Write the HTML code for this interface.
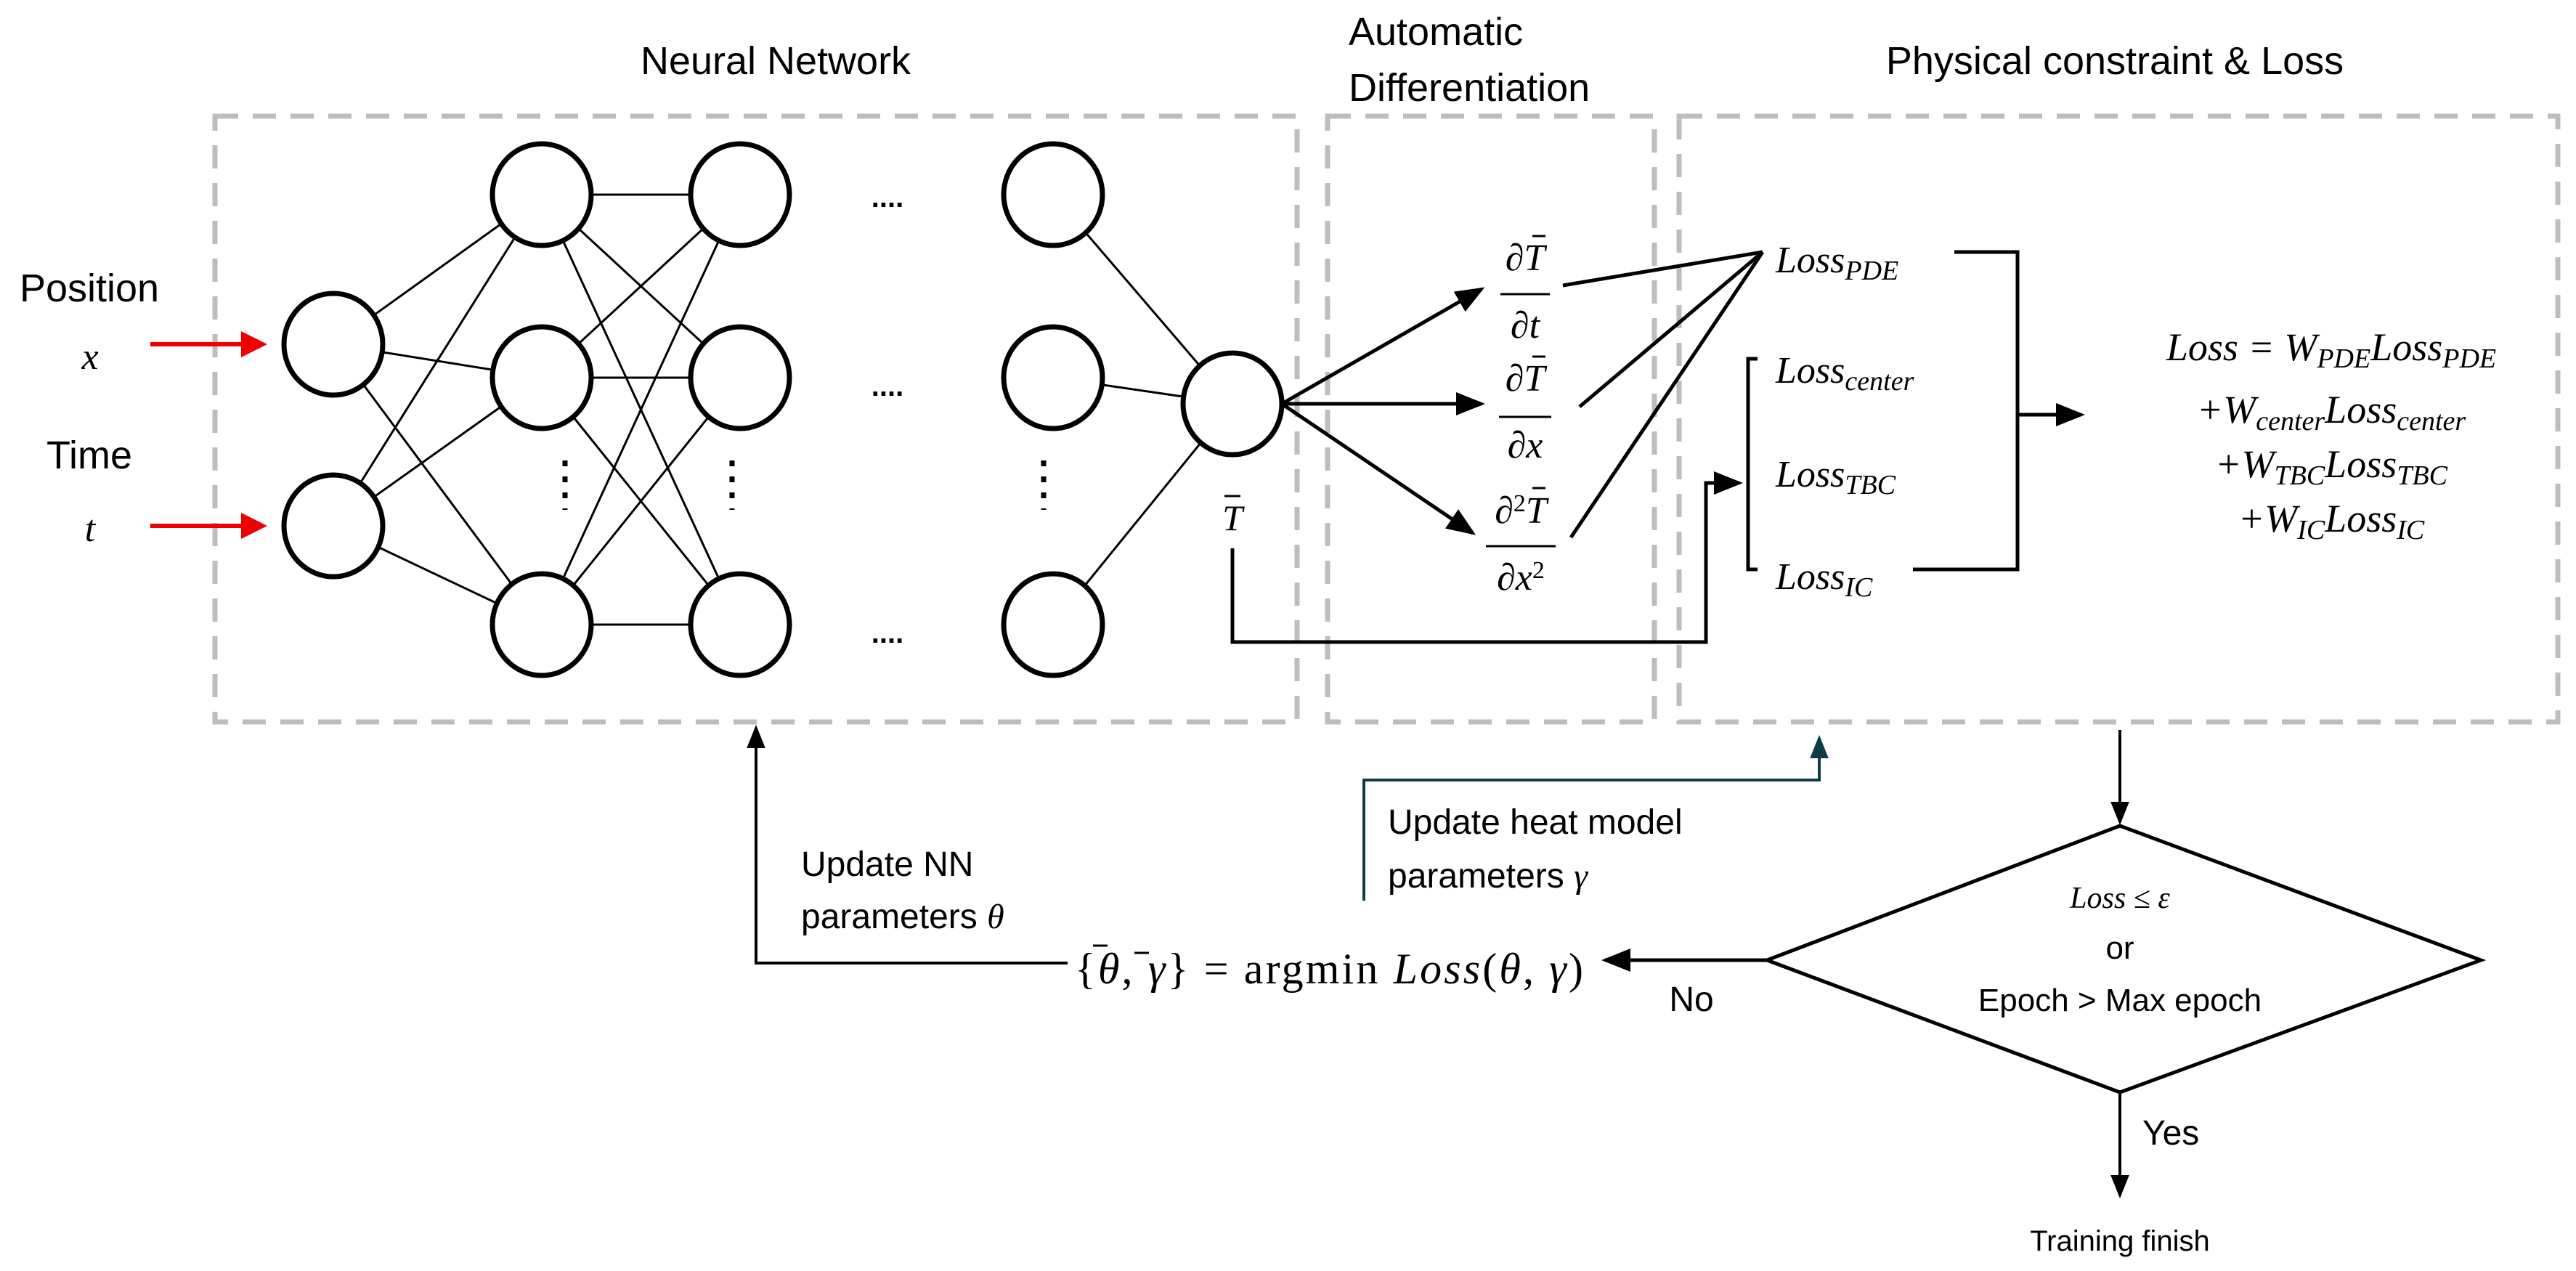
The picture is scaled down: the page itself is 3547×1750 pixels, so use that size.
<!DOCTYPE html>
<html><head><meta charset="utf-8"><style>
body{margin:0;background:#fff}
svg{display:block}
.s{font-family:"Liberation Sans",Arial,sans-serif}
.m{font-family:"Liberation Serif","DejaVu Serif",serif;font-style:italic}
</style></head><body>
<svg width="3547" height="1750" viewBox="0 0 3547 1750" xmlns="http://www.w3.org/2000/svg">
<defs>
<marker id="a" markerWidth="8" markerHeight="8" refX="7" refY="4" orient="auto" markerUnits="strokeWidth"><path d="M0,0.8 L8,4 L0,7.2 z" fill="#000"/></marker>
<marker id="r" markerWidth="6" markerHeight="6" refX="5" refY="3" orient="auto" markerUnits="strokeWidth"><path d="M0,0 L6,3 L0,6 z" fill="#e00"/></marker>
<marker id="g" markerWidth="8" markerHeight="8" refX="7" refY="4" orient="auto" markerUnits="strokeWidth"><path d="M0,0.8 L8,4 L0,7.2 z" fill="#0d3b4a"/></marker>
</defs>
<g fill="none" stroke="#bdbdbd" stroke-width="7" stroke-dasharray="32 20">
<rect x="296" y="160" width="1490" height="834"/>
<rect x="1828" y="160" width="450" height="834"/>
<rect x="2312" y="160" width="1210" height="834"/>
</g>
<g class="s" font-size="54" fill="#000">
<text x="1068" y="102" text-anchor="middle">Neural Network</text>
<text x="1857" y="62">Automatic</text>
<text x="1857" y="139">Differentiation</text>
<text x="2912" y="102" text-anchor="middle">Physical constraint &amp; Loss</text>
<text x="123" y="415" text-anchor="middle">Position</text>
<text x="123" y="645" text-anchor="middle">Time</text>
</g>
<text class="m" x="124" y="508" font-size="52" text-anchor="middle">x</text>
<text class="m" x="124" y="745" font-size="52" text-anchor="middle">t</text>
<g stroke="#e00" stroke-width="6" marker-end="url(#r)">
<line x1="207" y1="474" x2="362" y2="474"/>
<line x1="207" y1="724" x2="362" y2="724"/>
</g>
<g stroke="#000" stroke-width="3">
<line x1="459" y1="474" x2="746" y2="268"/><line x1="459" y1="474" x2="746" y2="520"/><line x1="459" y1="474" x2="746" y2="860"/>
<line x1="459" y1="724" x2="746" y2="268"/><line x1="459" y1="724" x2="746" y2="520"/><line x1="459" y1="724" x2="746" y2="860"/>
<line x1="746" y1="268" x2="1019" y2="268"/><line x1="746" y1="268" x2="1019" y2="520"/><line x1="746" y1="268" x2="1019" y2="860"/>
<line x1="746" y1="520" x2="1019" y2="268"/><line x1="746" y1="520" x2="1019" y2="520"/><line x1="746" y1="520" x2="1019" y2="860"/>
<line x1="746" y1="860" x2="1019" y2="268"/><line x1="746" y1="860" x2="1019" y2="520"/><line x1="746" y1="860" x2="1019" y2="860"/>
<line x1="1450" y1="268" x2="1697" y2="556"/><line x1="1450" y1="520" x2="1697" y2="556"/><line x1="1450" y1="860" x2="1697" y2="556"/>
</g>
<g fill="#fff" stroke="#000" stroke-width="7">
<ellipse cx="459" cy="474" rx="68" ry="70"/><ellipse cx="459" cy="724" rx="68" ry="70"/>
<ellipse cx="746" cy="268" rx="68" ry="70"/><ellipse cx="746" cy="520" rx="68" ry="70"/><ellipse cx="746" cy="860" rx="68" ry="70"/>
<ellipse cx="1019" cy="268" rx="68" ry="70"/><ellipse cx="1019" cy="520" rx="68" ry="70"/><ellipse cx="1019" cy="860" rx="68" ry="70"/>
<ellipse cx="1450" cy="268" rx="68" ry="70"/><ellipse cx="1450" cy="520" rx="68" ry="70"/><ellipse cx="1450" cy="860" rx="68" ry="70"/>
<ellipse cx="1697" cy="556" rx="68" ry="70"/>
</g>
<g class="s" font-size="40" font-weight="bold" text-anchor="middle">
<text x="1222" y="285">....</text><text x="1222" y="545">....</text><text x="1222" y="885">....</text>
</g>
<g stroke="#000" stroke-width="7" stroke-dasharray="8 14">
<line x1="778" y1="634" x2="778" y2="702"/><line x1="1008" y1="634" x2="1008" y2="702"/><line x1="1437" y1="634" x2="1437" y2="702"/>
</g>
<text class="m" x="1697" y="730" font-size="50" text-anchor="middle">T</text>
<line x1="1686" y1="683" x2="1708" y2="683" stroke="#000" stroke-width="3"/>
<polyline points="1697,755 1697,884 2349,884 2349,665 2395,665" fill="none" stroke="#000" stroke-width="5" marker-end="url(#a)"/>
<g stroke="#000" stroke-width="5" fill="none">
<line x1="1765" y1="556" x2="2040" y2="398" marker-end="url(#a)"/>
<line x1="1765" y1="556" x2="2040" y2="556" marker-end="url(#a)"/>
<line x1="1765" y1="556" x2="2028" y2="734" marker-end="url(#a)"/>
<line x1="2152" y1="393" x2="2427" y2="347"/>
<line x1="2175" y1="560" x2="2427" y2="347"/>
<line x1="2163" y1="740" x2="2427" y2="347"/>
</g>
<g class="m" font-size="52" text-anchor="middle">
<text x="2100" y="372">∂T</text><text x="2100" y="465">∂t</text>
<text x="2100" y="538">∂T</text><text x="2100" y="630">∂x</text>
<text x="2094" y="720">∂<tspan font-style="normal" font-size="34" dy="-16">2</tspan><tspan dy="16">T</tspan></text><text x="2094" y="812">∂x<tspan font-style="normal" font-size="34" dy="-16">2</tspan></text>
</g>
<g stroke="#000" stroke-width="3">
<line x1="2066" y1="405" x2="2134" y2="405"/><line x1="2064" y1="574" x2="2136" y2="574"/><line x1="2046" y1="752" x2="2142" y2="752"/>
<line x1="2110" y1="325" x2="2128" y2="325"/><line x1="2110" y1="491" x2="2128" y2="491"/><line x1="2110" y1="672" x2="2128" y2="672"/>
</g>
<g class="m" font-size="52">
<text x="2445" y="375">Loss<tspan font-size="38" dy="10">PDE</tspan></text>
<text x="2445" y="527">Loss<tspan font-size="38" dy="10">center</tspan></text>
<text x="2445" y="670">Loss<tspan font-size="38" dy="10">TBC</tspan></text>
<text x="2445" y="811">Loss<tspan font-size="38" dy="10">IC</tspan></text>
</g>
<g stroke="#000" stroke-width="5" fill="none">
<polyline points="2420,494 2407,494 2407,784 2420,784"/>
<polyline points="2691,347 2778,347 2778,784 2634,784"/>
<line x1="2778" y1="571" x2="2866" y2="571" marker-end="url(#a)"/>
</g>
<g class="m" font-size="54" text-anchor="middle">
<text x="3210" y="496">Loss = W<tspan font-size="38" dy="10">PDE</tspan><tspan dy="-10">Loss</tspan><tspan font-size="38" dy="10">PDE</tspan></text>
<text x="3210" y="582">+W<tspan font-size="38" dy="10">center</tspan><tspan dy="-10">Loss</tspan><tspan font-size="38" dy="10">center</tspan></text>
<text x="3210" y="657">+W<tspan font-size="38" dy="10">TBC</tspan><tspan dy="-10">Loss</tspan><tspan font-size="38" dy="10">TBC</tspan></text>
<text x="3210" y="732">+W<tspan font-size="38" dy="10">IC</tspan><tspan dy="-10">Loss</tspan><tspan font-size="38" dy="10">IC</tspan></text>
</g>
<polygon points="2919,1137 3416,1322 2919,1504 2433,1322" fill="none" stroke="#000" stroke-width="5"/>
<g stroke="#000" stroke-width="4" fill="none">
<line x1="2919" y1="1005" x2="2919" y2="1132" marker-end="url(#a)"/>
<line x1="2919" y1="1504" x2="2919" y2="1646" marker-end="url(#a)"/>
<line x1="2433" y1="1322" x2="2210" y2="1322" stroke-width="5" marker-end="url(#a)"/>
<polyline points="1470,1326 1041,1326 1041,1002" marker-end="url(#a)"/>
</g>
<polyline points="1878,1240 1878,1074 2505,1074 2505,1016" fill="none" stroke="#0d3b4a" stroke-width="4" marker-end="url(#g)"/>
<g class="s" font-size="48" fill="#000">
<text x="1103" y="1206">Update NN</text>
<text x="1103" y="1278">parameters <tspan class="m">θ</tspan></text>
<text x="1911" y="1148">Update heat model</text>
<text x="1911" y="1222">parameters <tspan class="m">γ</tspan></text>
<text x="2329" y="1392" text-anchor="middle">No</text>
<text x="2950" y="1576">Yes</text>
<text x="2919" y="1392" text-anchor="middle" font-size="44">Epoch &gt; Max epoch</text>
<text x="2919" y="1320" text-anchor="middle" font-size="44">or</text>
<text x="2919" y="1722" text-anchor="middle" font-size="40">Training finish</text>
</g>
<text class="m" x="2919" y="1250" font-size="42" text-anchor="middle">Loss ≤ ε</text>
<text x="1480" y="1354" font-size="60" font-family="Liberation Serif,serif" textLength="700">{<tspan font-style="italic">θ</tspan>, <tspan font-style="italic">γ</tspan>} = argmin <tspan font-style="italic">Loss</tspan>(<tspan font-style="italic">θ</tspan>, <tspan font-style="italic">γ</tspan>)</text>
<g stroke="#000" stroke-width="3">
<line x1="1505" y1="1302" x2="1525" y2="1302"/><line x1="1562" y1="1312" x2="1582" y2="1312"/>
</g>
</svg>
</body></html>
